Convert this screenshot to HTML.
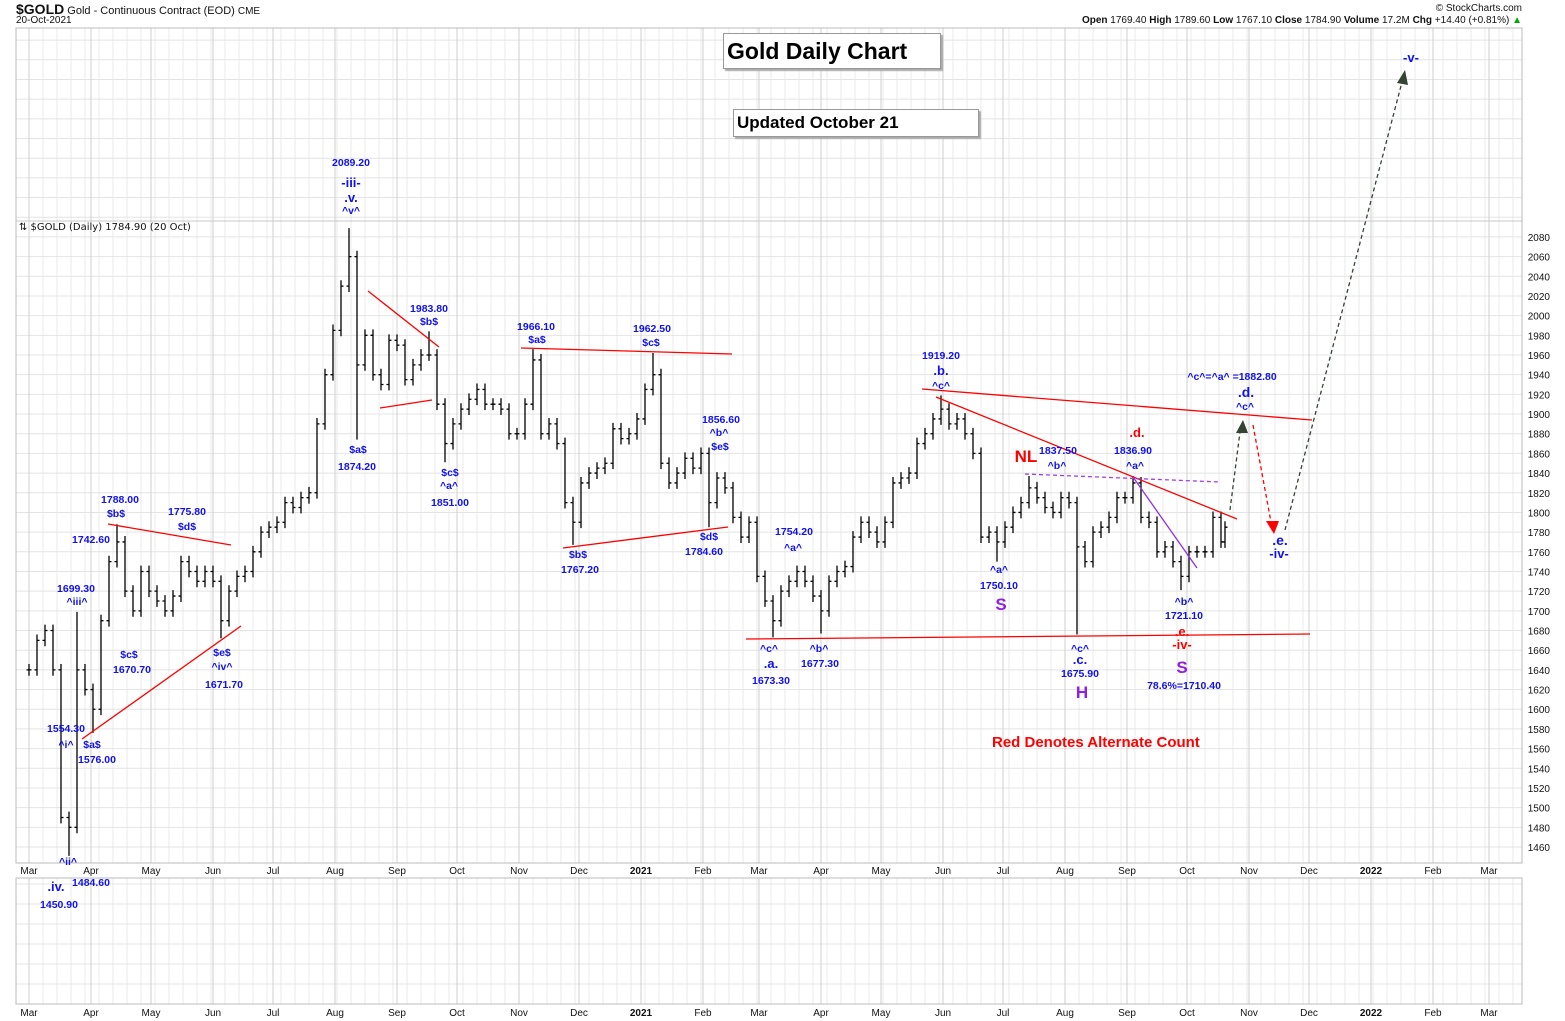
<!DOCTYPE html>
<html><head><meta charset="utf-8"><style>
body{margin:0;background:#fff;width:1565px;height:1021px;overflow:hidden;font-family:"Liberation Sans",sans-serif}
svg{position:absolute;left:0;top:0}
</style></head><body>
<svg id="c" width="1565" height="1021" xmlns="http://www.w3.org/2000/svg"></svg>
<script>
const closes=[1640,1670,1680,1640,1490,1480,1640,1620,1600,1690,1750,1770,1720,1700,1740,1720,1710,1700,1715,1750,1740,1730,1740,1730,1690,1720,1735,1740,1760,1780,1785,1790,1810,1805,1815,1820,1890,1940,1985,2030,2060,1950,1980,1940,1930,1975,1970,1935,1950,1960,1960,1910,1870,1890,1905,1915,1925,1910,1910,1905,1880,1880,1910,1955,1880,1890,1870,1810,1790,1830,1840,1845,1850,1885,1875,1880,1895,1925,1940,1850,1830,1840,1855,1845,1860,1810,1835,1825,1795,1775,1790,1735,1710,1690,1720,1730,1740,1730,1715,1700,1730,1740,1745,1775,1790,1780,1770,1790,1830,1835,1840,1870,1880,1895,1905,1890,1895,1880,1860,1775,1780,1770,1785,1800,1810,1825,1815,1805,1800,1815,1810,1765,1750,1780,1785,1795,1815,1815,1830,1795,1790,1760,1765,1750,1735,1760,1760,1760,1795,1770,1785];
const extremeIdx=[5,6,8,11,24,40,41,50,52,63,68,78,85,93,99,114,121,125,131,138,144];
const extremeVal=[1451,1699,1576,1788,1672,2089,1874,1984,1851,1966,1767,1962,1785,1673,1677,1919,1750,1837,1676,1837,1721];
const yTicks=[2080,2060,2040,2020,2000,1980,1960,1940,1920,1900,1880,1860,1840,1820,1800,1780,1760,1740,1720,1700,1680,1660,1640,1620,1600,1580,1560,1540,1520,1500,1480,1460];
const monthNames=["Mar","Apr","May","Jun","Jul","Aug","Sep","Oct","Nov","Dec","2021","Feb","Mar","Apr","May","Jun","Jul","Aug","Sep","Oct","Nov","Dec","2022","Feb","Mar"];
const monthDays=[0,31,61,92,122,153,184,214,245,275,306,337,365,396,426,457,487,518,549,579,610,640,671,702,730];

const S=document.getElementById('c');const NS='http://www.w3.org/2000/svg';
function el(t,a,p){const e=document.createElementNS(NS,t);for(const k in a)e.setAttribute(k,a[k]);(p||S).appendChild(e);return e;}
const X=d=>29+2.0*d, Y=p=>847-(p-1460)*0.984;
const L=16,R=1522,T=28,B=863;
// gridlines
const g=el('g',{});


for(let d=0;d<=760;d+=7){const x=X(d);if(x<L||x>R)continue;el('line',{x1:x,x2:x,y1:T,y2:B,stroke:'#ebebeb'},g);el('line',{x1:x,x2:x,y1:878,y2:1004,stroke:'#ebebeb'},g);}
for(let p=1440;p<=2280;p+=20){const y=Y(p);if(y<T||y>B)continue;el('line',{x1:L,x2:R,y1:y,y2:y,stroke:'#e4e4e4'},g);}
for(let y=884;y<1004;y+=20)el('line',{x1:L,x2:R,y1:y,y2:y,stroke:'#e4e4e4'},g);
monthDays.forEach((d,i)=>{const x=X(d);el('line',{x1:x,x2:x,y1:T,y2:B,stroke:'#cfcfcf'},g);el('line',{x1:x,x2:x,y1:878,y2:1004,stroke:'#cfcfcf'},g);
 const t=el('text',{x:x,y:874,'text-anchor':'middle','font-size':10,fill:'#111','font-weight':monthNames[i].length==4?'bold':'normal'});t.textContent=monthNames[i];
 
 
 const t2=el('text',{x:x,y:1016,'text-anchor':'middle','font-size':10,fill:'#111','font-weight':monthNames[i].length==4?'bold':'normal'});t2.textContent=monthNames[i];
 
 });
el('line',{x1:L,x2:R,y1:221,y2:221,stroke:'#c8c8c8'});
el('rect',{x:L,y:T,width:R-L,height:B-T,fill:'none',stroke:'#bbb'});
el('rect',{x:L,y:878,width:R-L,height:126,fill:'none',stroke:'#bbb'});
yTicks.forEach(p=>{const t=el('text',{x:1550,y:Y(p)+4,'text-anchor':'end','font-size':10,fill:'#111'});t.textContent=p;
 
 });
// bars
const bg=el('g',{stroke:'#000','stroke-width':1.3});


closes.forEach((c,i)=>{const pv=i?closes[i-1]:c;let hi=Math.max(c,pv)+6,lo=Math.min(c,pv)-6;
 const k=extremeIdx.indexOf(i);if(k>=0){if(extremeVal[k]>hi)hi=extremeVal[k];if(extremeVal[k]<lo)lo=extremeVal[k];}
 const x=X(Math.min(i*4,598));
 const b=el('path',{d:`M${x} ${Y(hi)}V${Y(lo)}M${x-2.5} ${Y(pv)}H${x}M${x} ${Y(c)}H${x+2.5}`},bg);
 
 });
// trendlines
function ln(x1,y1,x2,y2,col,name,dash,w){const e=el('line',{x1,y1,x2,y2,stroke:col,'stroke-width':w||1.3});if(dash)e.setAttribute('stroke-dasharray',dash);return e;}
ln(82,739,241,626,'#f00','trendline');ln(108,524,231,545,'#f00','trendline');
ln(368,291,439,347,'#f00','trendline');ln(380,408,432,400,'#f00','trendline');
ln(521,348,732,354,'#f00','trendline');ln(563,548,728,527,'#f00','trendline');
ln(922,389,1312,420,'#f00','trendline');ln(936,397,1237,519,'#f00','trendline');
ln(746,639,1310,634,'#f00','support-line');
ln(1025,474,1220,482,'#a040e0','neckline-dashed','4,3');
ln(1133,477,1197,568,'#9030e0','purple-trendline');
ln(1230,510,1240,432,'#334433','up-arrow-path','4,3');el('polygon',{points:'1236,433 1248,433 1243,420',fill:'#334433'});
ln(1253,425,1271,522,'#f00','down-arrow-path','4,3');el('polygon',{points:'1266,521 1279,521 1274,534',fill:'#f00'});
ln(1285,530,1402,82,'#334433','final-arrow-path','4,3');el('polygon',{points:'1397,83 1408,85 1405,70',fill:'#334433'});
// annotations
const A=[[351,166,"2089.20"],[351,187,"-iii-",1,13],[351,202,".v.",1,13],[351,214,"^v^"],[429,312,"1983.80"],[429,325,"$b$"],[358,453,"$a$"],[357,470,"1874.20"],[450,476,"$c$"],[449,489,"^a^"],[450,506,"1851.00"],[536,330,"1966.10"],[537,343,"$a$"],[652,332,"1962.50"],[651,346,"$c$"],[721,423,"1856.60"],[719,436,"^b^"],[720,450,"$e$"],[709,540,"$d$"],[704,555,"1784.60"],[578,558,"$b$"],[580,573,"1767.20"],[120,503,"1788.00"],[116,517,"$b$"],[187,515,"1775.80"],[187,530,"$d$"],[91,543,"1742.60"],[76,592,"1699.30"],[77,605,"^iii^"],[129,658,"$c$"],[132,673,"1670.70"],[222,656,"$e$"],[222,670,"^iv^"],[224,688,"1671.70"],[66,732,"1554.30"],[66,748,"^i^"],[92,748,"$a$"],[97,763,"1576.00"],[68,865,"^ii^"],[91,886,"1484.60"],[56,891,".iv.",1,13],[59,908,"1450.90"],[794,535,"1754.20"],[793,551,"^a^"],[769,652,"^c^"],[771,668,".a.",1,13],[771,684,"1673.30"],[819,652,"^b^"],[820,667,"1677.30"],[941,359,"1919.20"],[941,375,".b.",1,13],[941,389,"^c^"],[999,573,"^a^"],[999,589,"1750.10"],[1058,454,"1837.50"],[1057,469,"^b^"],[1133,454,"1836.90"],[1135,469,"^a^"],[1232,380,"^c^=^a^ =1882.80"],[1246,397,".d.",1,14],[1245,410,"^c^"],[1080,652,"^c^"],[1080,664,".c.",1,13],[1080,677,"1675.90"],[1184,605,"^b^"],[1184,619,"1721.10"],[1184,689,"78.6%=1710.40"],[1280,545,".e.",1,14],[1279,558,"-iv-",1,13],[1411,62,"-v-",1,13]];
A.forEach(a=>{const t=el('text',{x:a[0],y:a[1],'text-anchor':'middle','font-size':a[4]||10.5,'font-weight':'bold',fill:'#1010f0'});t.textContent=a[2];
 
 });
const RA=[[1137,437,".d.",'#f00',13],[1182,636,".e.",'#f00',13],[1182,649,"-iv-",'#f00',13],[1026,462,"NL",'#f00',17],[1001,610,"S",'#9020e0',17],[1182,673,"S",'#9020e0',17],[1082,698,"H",'#9020e0',17]];
RA.forEach(a=>{const t=el('text',{x:a[0],y:a[1],'text-anchor':'middle','font-size':a[4],'font-weight':'bold',fill:a[3]});t.textContent=a[2];
 
 });
</script>
<div style="position:absolute;left:16px;top:1px;font-size:11px;color:#111"><b style="font-size:14px">$GOLD</b> Gold - Continuous Contract (EOD) <span style="font-size:10px">CME</span></div>
<div style="position:absolute;left:16px;top:15px;font-size:10px;color:#111">20-Oct-2021</div>
<div style="position:absolute;right:43px;top:3px;font-size:10px;color:#111">© StockCharts.com</div>
<div style="position:absolute;right:43px;top:15px;font-size:10px;color:#111"><b>Open</b> 1769.40 <b>High</b> 1789.60 <b>Low</b> 1767.10 <b>Close</b> 1784.90 <b>Volume</b> 17.2M <b>Chg</b> +14.40 (+0.81%) <span style="color:#0a0">▲</span></div>
<div style="position:absolute;left:19px;top:222px;font-size:10px;font-family:'DejaVu Sans',sans-serif;color:#111">⇅ $GOLD (Daily) 1784.90 (20 Oct)</div>
<div style="position:absolute;left:723px;top:33px;width:213px;height:34px;border:1px solid #999;box-shadow:2px 2px 1px #aaa;background:#fff;font-size:23px;font-weight:bold;line-height:34px;padding-left:3px;color:#000">Gold Daily Chart</div>
<div style="position:absolute;left:733px;top:109px;width:241px;height:26px;border:1px solid #999;box-shadow:2px 2px 1px #aaa;background:#fff;font-size:17px;font-weight:bold;line-height:26px;padding-left:3px;color:#000">Updated October 21</div>
<div style="position:absolute;left:992px;top:734px;font-size:15px;font-weight:bold;color:#f00">Red Denotes Alternate Count</div>
</body></html>
